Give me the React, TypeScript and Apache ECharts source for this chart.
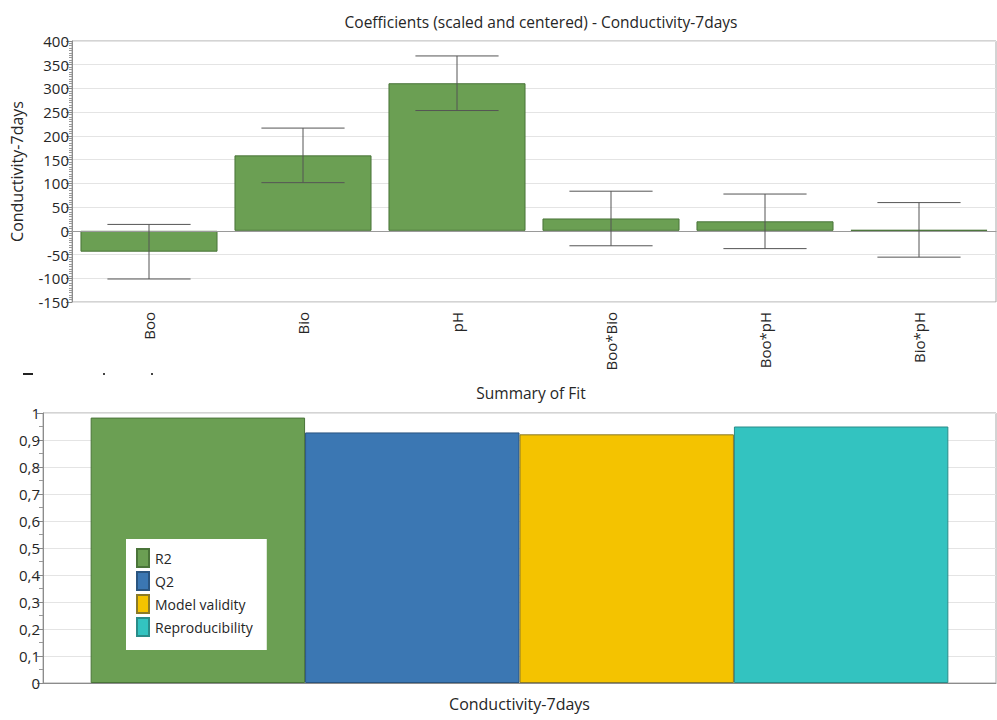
import React, { useEffect, useRef } from "react";
import * as echarts from "echarts";

// Coefficient plot (scaled and centered) for the Conductivity-7days response
const terms = ["Boo", "Bio", "pH", "Boo*Bio", "Boo*pH", "Bio*pH"];
const coefficients = [-44, 159, 311, 26, 20, 2];
const confidence = [57.5, 57.5, 57.5, 57.5, 57.5, 57.5];
const coefTicks = { min: -150, max: 400, step: 50 };

// Summary of fit
const responses = ["Conductivity-7days"];
const r2 = [0.983];
const q2 = [0.928];
const modelValidity = [0.921];
const reproducibility = [0.95];

const FONT = "'Open Sans', 'Noto Sans', sans-serif";
const TEXT = "#262626";

export default function App() {
  const ref = useRef<HTMLDivElement>(null);

  useEffect(() => {
    document.body.style.margin = "0";
    const chart = echarts.init(ref.current!, undefined, { renderer: "svg" });

    const errorData = terms.map((_, i) => [
      i,
      coefficients[i] - confidence[i],
      coefficients[i] + confidence[i],
    ]);

    const fitSeries = [
      { name: "R2", data: r2, fill: "#6b9f53", edge: "#4a7439" },
      { name: "Q2", data: q2, fill: "#3b77b3", edge: "#2a5580" },
      { name: "Model validity", data: modelValidity, fill: "#f4c300", edge: "#8a7a28" },
      { name: "Reproducibility", data: reproducibility, fill: "#33c3c0", edge: "#2a8c89" },
    ];

    chart.setOption({
      animation: false,
      textStyle: { fontFamily: FONT },
      title: [
        {
          text: "Coefficients (scaled and centered) - Conductivity-7days",
          left: 536,
          top: 9,
          textAlign: "center",
          textStyle: { fontSize: 15.5, fontWeight: "normal", color: TEXT, fontFamily: FONT },
        },
        {
          text: "Summary of Fit",
          left: 526,
          top: 380,
          textAlign: "center",
          textStyle: { fontSize: 15.5, fontWeight: "normal", color: TEXT, fontFamily: FONT },
        },
      ],
      legend: {
        data: fitSeries.map((s) => s.name),
        orient: "vertical",
        left: 126,
        top: 539,
        padding: [9, 14, 13, 10],
        backgroundColor: "#ffffff",
        itemWidth: 12,
        itemHeight: 18,
        itemGap: 3,
        icon: "rect",
        textStyle: {
          fontSize: 14,
          color: TEXT,
          fontFamily: FONT,
          padding: [0, 0, 0, 1],
        },
      },
      grid: [
        {
          left: 72,
          top: 41,
          right: 1,
          bottom: 418,
          show: true,
          borderColor: "#a8a8a8",
          borderWidth: 1,
          backgroundColor: "#ffffff",
        },
        {
          left: 43,
          top: 413,
          right: 1,
          bottom: 37,
          show: true,
          borderColor: "#a8a8a8",
          borderWidth: 1,
          backgroundColor: "#ffffff",
        },
      ],
      xAxis: [
        {
          type: "category",
          gridIndex: 0,
          data: terms,
          axisLine: { lineStyle: { color: "#8c8c8c" } },
          axisTick: { alignWithLabel: true, length: 6, lineStyle: { color: "#777" } },
          axisLabel: { rotate: 90, margin: 10, fontSize: 15, color: TEXT, fontFamily: FONT },
          splitLine: { show: false },
        },
        {
          type: "category",
          gridIndex: 1,
          data: responses,
          axisLine: { lineStyle: { color: "#8c8c8c" } },
          axisTick: { alignWithLabel: true, length: 8, lineStyle: { color: "#999" } },
          axisLabel: { margin: 13, fontSize: 16, color: TEXT, fontFamily: FONT },
          splitLine: { show: false },
        },
      ],
      yAxis: [
        {
          type: "value",
          gridIndex: 0,
          min: coefTicks.min,
          max: coefTicks.max,
          interval: coefTicks.step,
          name: "Conductivity-7days",
          nameLocation: "middle",
          nameRotate: 90,
          nameGap: 47,
          nameTextStyle: { fontSize: 16, color: TEXT, fontFamily: FONT },
          axisLine: { show: true, lineStyle: { color: "#8c8c8c" } },
          axisTick: { show: true, length: 6, lineStyle: { color: "#888" } },
          minorTick: { show: true, splitNumber: 10, length: 3, lineStyle: { color: "#999" } },
          axisLabel: { margin: 3, fontSize: 15, color: TEXT, fontFamily: FONT },
          splitLine: { lineStyle: { color: "#e4e4e4" } },
        },
        {
          type: "value",
          gridIndex: 1,
          min: 0,
          max: 1,
          interval: 0.1,
          axisLine: { show: true, lineStyle: { color: "#8c8c8c" } },
          axisTick: { show: true, length: 6, lineStyle: { color: "#888" } },
          minorTick: { show: true, splitNumber: 2, length: 4, lineStyle: { color: "#999" } },
          axisLabel: {
            margin: 3,
            fontSize: 15,
            color: TEXT,
            fontFamily: FONT,
            formatter: (v: number) => String(+v.toFixed(1)).replace(".", ","),
          },
          splitLine: { lineStyle: { color: "#e4e4e4" } },
        },
      ],
      series: [
        {
          type: "bar",
          name: "Coefficient",
          xAxisIndex: 0,
          yAxisIndex: 0,
          data: coefficients,
          barCategoryGap: "11%",
          itemStyle: { color: "#6b9f53", borderColor: "#4a7439", borderWidth: 1 },
          markLine: {
            silent: true,
            symbol: "none",
            label: { show: false },
            lineStyle: { color: "#9a9a9a", type: "solid", width: 1 },
            data: [{ yAxis: 0 }],
          },
        },
        {
          type: "custom",
          name: "Confidence interval",
          xAxisIndex: 0,
          yAxisIndex: 0,
          z: 5,
          data: errorData,
          renderItem: (params: any, api: any) => {
            const x = api.value(0);
            const lo = api.coord([x, api.value(1)]);
            const hi = api.coord([x, api.value(2)]);
            const half = (api.size([1, 0])[0] * 0.54) / 2;
            const style = { stroke: "#555555", lineWidth: 1 };
            return {
              type: "group",
              children: [
                { type: "line", shape: { x1: hi[0], y1: hi[1], x2: lo[0], y2: lo[1] }, style },
                { type: "line", shape: { x1: hi[0] - half, y1: hi[1], x2: hi[0] + half, y2: hi[1] }, style },
                { type: "line", shape: { x1: lo[0] - half, y1: lo[1], x2: lo[0] + half, y2: lo[1] }, style },
              ],
            };
          },
        },
        ...fitSeries.map((s) => ({
          type: "bar",
          name: s.name,
          xAxisIndex: 1,
          yAxisIndex: 1,
          data: s.data,
          barGap: "0%",
          barCategoryGap: "10%",
          itemStyle: { color: s.fill, borderColor: s.edge, borderWidth: 1 },
        })),
      ],
      graphic: [
        { type: "rect", shape: { x: 23, y: 373, width: 10, height: 2 }, style: { fill: "#222" } },
        { type: "rect", shape: { x: 103, y: 373, width: 2, height: 2 }, style: { fill: "#444" } },
        { type: "rect", shape: { x: 151, y: 373, width: 2, height: 2 }, style: { fill: "#444" } },
      ],
    });

    return () => chart.dispose();
  }, []);

  return (
    <div
      ref={ref}
      style={{ position: "fixed", left: 0, top: 0, width: 997, height: 720, background: "#fff" }}
    />
  );
}
